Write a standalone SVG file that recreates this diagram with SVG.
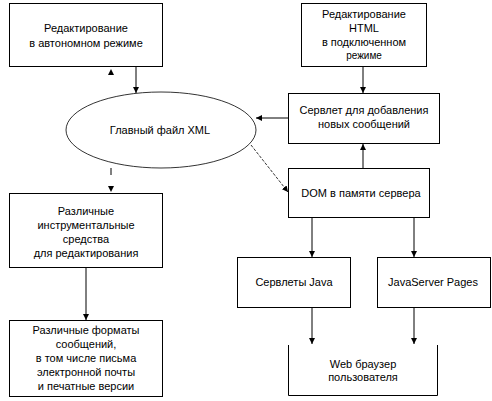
<svg xmlns="http://www.w3.org/2000/svg" width="492" height="401" viewBox="0 0 492 401">
<style>
.box{fill:#fff;stroke:#000;stroke-width:1}
.ln{fill:none;stroke:#000;stroke-width:1}
.dash{fill:none;stroke:#000;stroke-width:0.8;stroke-dasharray:3 1.5}
.ell{fill:#fff;stroke:#000;stroke-width:0.8}
text{font-family:"Liberation Sans",Arial,sans-serif;font-size:11px;fill:#000;text-anchor:middle}
.sm{font-size:10px}
.ah{fill:#000}
</style>
<defs>
<marker id="arr" viewBox="0 0 6 6" refX="6" refY="3" markerWidth="6" markerHeight="6" markerUnits="userSpaceOnUse" orient="auto">
<path d="M0,0 L6,3 L0,6 Z" fill="#000"/>
</marker>
</defs>
<rect width="492" height="401" fill="#fff"/>
<g id="connectors">
<line class="ln" x1="136" y1="67" x2="136" y2="93" marker-end="url(#arr)"/>
<polygon class="ah" points="108,75 114,75 111,69"/>
<line class="ln" x1="111" y1="168" x2="111" y2="175"/>
<polygon class="ah" points="108,186 114,186 111,192"/>
<line class="ln" x1="86" y1="267" x2="86" y2="320" marker-end="url(#arr)"/>
<line class="ln" x1="363" y1="67" x2="363" y2="93" marker-end="url(#arr)"/>
<line class="ln" x1="363" y1="168" x2="363" y2="144" marker-end="url(#arr)"/>
<line class="ln" x1="288" y1="118" x2="256" y2="118" marker-end="url(#arr)"/>
<line class="dash" x1="251" y1="145" x2="288" y2="192" marker-end="url(#arr)"/>
<line class="ln" x1="312" y1="217" x2="312" y2="257" marker-end="url(#arr)"/>
<line class="ln" x1="414" y1="217" x2="414" y2="257" marker-end="url(#arr)"/>
<line class="ln" x1="312" y1="307" x2="312" y2="344" marker-end="url(#arr)"/>
<line class="ln" x1="414" y1="307" x2="414" y2="344" marker-end="url(#arr)"/>
</g>
<g id="offline">
<rect class="box" x="9.5" y="3.5" width="153" height="63"/>
<text x="86" y="32">Редактирование</text>
<text x="86" y="47">в автономном режиме</text>
</g>
<g id="online">
<rect class="box" x="301.5" y="3.5" width="125" height="63"/>
<text x="364" y="18">Редактирование</text>
<text x="364" y="32">HTML</text>
<text x="364" y="46">в подключенном</text>
<text class="sm" x="364" y="59">режиме</text>
</g>
<g id="xml">
<ellipse class="ell" cx="161" cy="130" rx="95" ry="38"/>
<text x="160" y="134">Главный файл XML</text>
</g>
<g id="servlet">
<rect class="box" x="288.5" y="93.5" width="151" height="50"/>
<text x="364" y="114">Сервлет для добавления</text>
<text x="364" y="128">новых сообщений</text>
</g>
<g id="dom">
<rect class="box" x="288.5" y="168.5" width="141" height="49"/>
<text x="361" y="197">DOM в памяти сервера</text>
</g>
<g id="tools">
<rect class="box" x="9.5" y="193.5" width="153" height="74"/>
<text x="86" y="215">Различные</text>
<text x="86" y="229">инструментальные</text>
<text x="86" y="243">средства</text>
<text x="86" y="257">для редактирования</text>
</g>
<g id="formats">
<rect class="box" x="9.5" y="320.5" width="153" height="76"/>
<text x="86" y="334">Различные форматы</text>
<text x="86" y="348">сообщений,</text>
<text x="86" y="362">в том числе письма</text>
<text x="86" y="376">электронной почты</text>
<text x="86" y="390">и печатные версии</text>
</g>
<g id="servlets-java">
<rect class="box" x="237.5" y="257.5" width="113" height="50"/>
<text x="294" y="286">Сервлеты Java</text>
</g>
<g id="jsp">
<rect class="box" x="377.5" y="257.5" width="113" height="50"/>
<text x="433" y="286">JavaServer Pages</text>
</g>
<g id="browser">
<path class="ln" d="M288.5,345 V395.5 H437.5 V345"/>
<text x="363" y="368">Web браузер</text>
<text x="363" y="381">пользователя</text>
</g>
</svg>
